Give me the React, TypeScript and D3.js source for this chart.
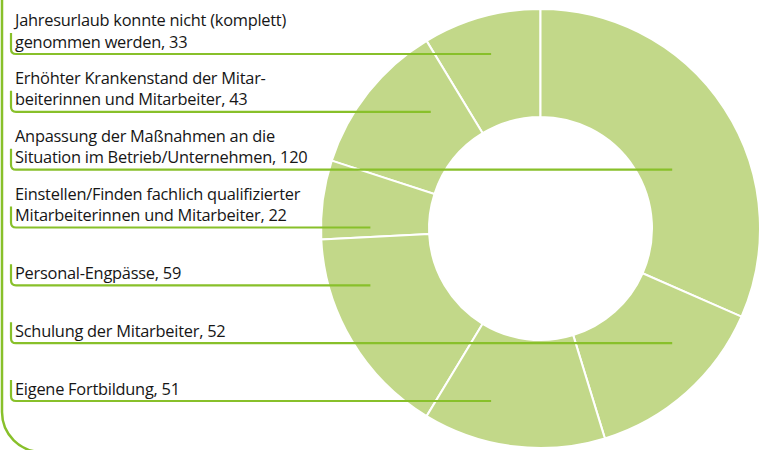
import { useEffect, useRef } from 'react';
import * as d3 from 'd3';

// legend order, top to bottom
const categories: string[][] = [
  ['Jahresurlaub konnte nicht (komplett)', 'genommen werden'],
  ['Erhöhter Krankenstand der Mitar-', 'beiterinnen und Mitarbeiter'],
  ['Anpassung der Maßnahmen an die', 'Situation im Betrieb/Unternehmen'],
  ['Einstellen/Finden fachlich qualifizierter', 'Mitarbeiterinnen und Mitarbeiter'],
  ['Personal-Engpässe'],
  ['Schulung der Mitarbeiter'],
  ['Eigene Fortbildung'],
];
const values = [33, 43, 120, 22, 59, 52, 51];
// slices clockwise from 12 o'clock (indices into categories)
const sliceOrder = [2, 5, 6, 4, 3, 1, 0];

// how far each leader line reaches into the ring, as a share of the outer radius from the centre
const leaderReach = [-0.225, -0.5, 0.6, -0.775, -0.775, 0.6, -0.225];

const W = 766;
const H = 450;
const GREEN = '#88c02a';
const FILL = '#c2d889';

export default function App() {
  const svgRef = useRef<SVGSVGElement>(null);

  useEffect(() => {
    if (!svgRef.current) return;
    const svg = d3.select(svgRef.current);
    svg.selectAll('*').remove();

    const cx = 540.5;
    const cy = 228.5;
    const outer = 219.5;
    const inner = 111.5;

    const rank = new Map(sliceOrder.map((c, i) => [c, i]));
    const pie = d3.pie<number>()
      .value(i => values[i])
      .sort((a, b) => rank.get(a)! - rank.get(b)!);
    const arc = d3.arc<d3.PieArcDatum<number>>()
      .innerRadius(inner)
      .outerRadius(outer);

    const g = svg.append('g').attr('transform', `translate(${cx},${cy})`);
    g.selectAll('path')
      .data(pie(values.map((_, i) => i)))
      .join('path')
      .attr('d', arc)
      .attr('fill', FILL)
      .attr('stroke', '#fff')
      .attr('stroke-width', 2);

    // outer frame on the left
    svg.append('path')
      .attr('d', 'M2,-5 V412 A40,40 0 0 0 42,452')
      .attr('fill', 'none')
      .attr('stroke', GREEN)
      .attr('stroke-width', 2.5);

    const y = d3.scaleLinear().domain([0, categories.length - 1]).range([54, 401]);
    const reach = d3.scaleLinear().domain([-1, 1]).range([cx - outer, cx + outer]);

    const items = svg.selectAll('g.item')
      .data(categories)
      .join('g')
      .attr('class', 'item');

    items.append('path')
      .attr('d', (_, i) => {
        const uy = y(i);
        return `M11,${uy - 21} V${uy - 5} Q11,${uy} 16,${uy} H${reach(leaderReach[i])}`;
      })
      .attr('fill', 'none')
      .attr('stroke', GREEN)
      .attr('stroke-width', 2.2);

    items.each(function (lines, i) {
      const t = d3.select(this).append('text')
        .attr('font-family', '"Open Sans", sans-serif')
        .attr('font-size', 16.4)
        .attr('letter-spacing', -0.25)
        .attr('fill', '#161616');
      const n = lines.length;
      lines.forEach((ln, j) => {
        t.append('tspan')
          .attr('x', 15)
          .attr('y', y(i) - 6.5 - (n - 1 - j) * 21.5)
          .text(j === n - 1 ? `${ln}, ${values[i]}` : ln);
      });
    });
  }, []);

  return (
    <svg
      ref={svgRef}
      width={W}
      height={H}
      style={{ position: 'absolute', left: 0, top: 0, background: '#fff' }}
    />
  );
}
